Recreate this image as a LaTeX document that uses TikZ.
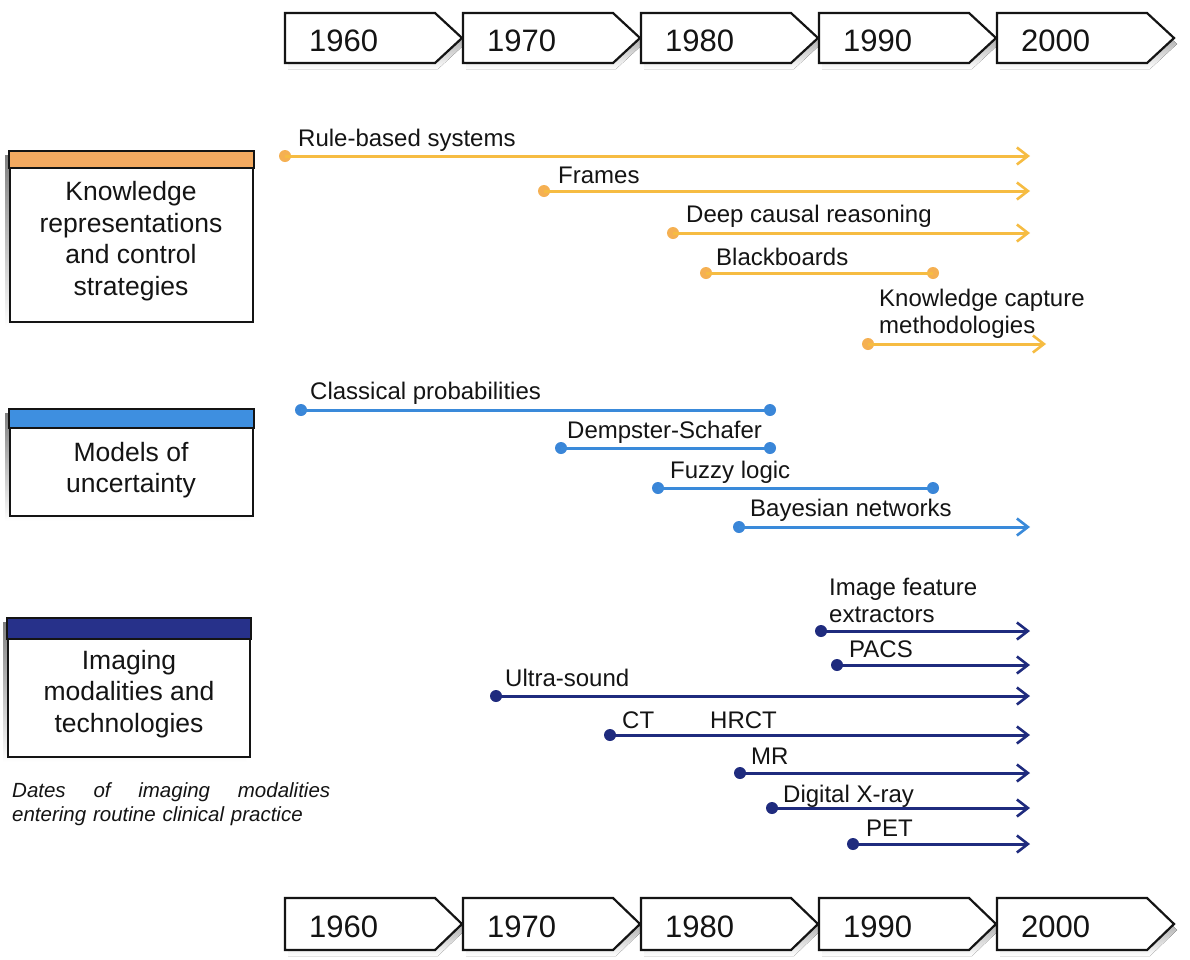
\documentclass[tikz,border=0pt]{standalone}
\usepackage{fontspec}
\setmainfont{Liberation Sans}
\usetikzlibrary{arrows.meta}
\definecolor{orgline}{HTML}{F6BC42}
\definecolor{orgdot}{HTML}{F5B052}
\definecolor{orgbar}{HTML}{F4AA60}
\definecolor{bluline}{HTML}{3A8ADA}
\definecolor{bludot}{HTML}{3A86D8}
\definecolor{blubar}{HTML}{3E8FE0}
\definecolor{navline}{HTML}{1F2B7E}
\definecolor{navbar}{HTML}{27318A}
\definecolor{shade}{HTML}{B3AFAF}
\definecolor{ink}{HTML}{141414}
\begin{document}
\begin{tikzpicture}[x=1pt,y=-1pt,
  lbl/.style={anchor=base west, inner sep=0pt, text=ink, font=\fontsize{24}{27}\selectfont},
  lbltwo/.style={anchor=west, inner sep=0pt, text=ink, align=left, font=\fontsize{24}{27}\selectfont},
  yeartxt/.style={anchor=base west, inner sep=0pt, text=ink, font=\fontsize{31}{36}\selectfont},
  boxtxt/.style={align=center, inner sep=0pt, text=ink, font=\fontsize{26.5}{31.5}\selectfont},
  dotbase/.style={circle, inner sep=0pt, minimum size=12pt},
  dotO/.style={dotbase, fill=orgdot},
  dotB/.style={dotbase, fill=bludot},
  dotN/.style={dotbase, fill=navline},
  segbase/.style={line width=3pt},
  arr/.style={segbase, -{Straight Barb[length=11pt,width=17pt,line width=2.6pt]}},
  segO/.style={segbase, draw=orgline},
  segB/.style={segbase, draw=bluline},
  segN/.style={segbase, draw=navline},
  arrO/.style={arr, draw=orgline},
  arrB/.style={arr, draw=bluline},
  arrN/.style={arr, draw=navline},
  frame/.style={line width=2.6pt, draw=ink},
]
\useasboundingbox (0,0) rectangle (1190,959);
\fill[white] (0,0) rectangle (1190,959);

% ---------- timelines ----------
\foreach \yr [count=\i from 0] in {1960,1970,1980,1990,2000} {
  \pgfmathsetmacro\xl{285+178*\i}
  \fill[shade] (\xl+3,13+6) -- ++(150,0) -- ++(27,25) -- ++(-27,25) -- ++(-150,0) -- cycle;
  \draw[fill=white, line width=2.2pt, draw=ink] (\xl,13) -- ++(150,0) -- ++(27,25) -- ++(-27,25) -- ++(-150,0) -- cycle;
  \node[yeartxt] (top\yr) at (\xl+24,51) {\yr};
  \fill[shade] (\xl+3,898+6) -- ++(150,0) -- ++(27,26) -- ++(-27,26) -- ++(-150,0) -- cycle;
  \draw[fill=white, line width=2.2pt, draw=ink] (\xl,898) -- ++(150,0) -- ++(27,26) -- ++(-27,26) -- ++(-150,0) -- cycle;
  \node[yeartxt] (bot\yr) at (\xl+24,937) {\yr};
}

% ---------- category boxes ----------
\fill[shade] (5,155) rectangle (250,327);
\draw[frame, fill=orgbar] (9,151) rectangle (254,168);
\draw[frame, fill=white] (10,168) rectangle (253,322);
\node[boxtxt] (kr) at (131,241) {Knowledge\\representations\\and control\\strategies};

\fill[shade] (5,413) rectangle (250,521);
\draw[frame, fill=blubar] (9,409) rectangle (254,428);
\draw[frame, fill=white] (10,428) rectangle (253,516);
\node[boxtxt] (mu) at (131,470) {Models of\\uncertainty};

\fill[shade] (3,622) rectangle (246,762);
\draw[frame, fill=navbar] (7,618) rectangle (251,639);
\draw[frame, fill=white] (8,639) rectangle (250,757);
\node[boxtxt] (im) at (129,694) {Imaging\\modalities and\\technologies};

\node[anchor=north west, inner sep=0pt, text=ink, text width=318pt, align=left,
      font=\itshape\fontsize{20.5}{24}\selectfont] (cap) at (12,782)
  {Dates\hfill of\hfill imaging\hfill modalities\\entering routine clinical practice};

% ---------- knowledge representation ----------
\node[dotO] (rb) at (285,156) {};
\coordinate (rbE) at (1030,156);
\draw[arrO] (rb.center) -- (rbE);
\node[lbl] (rbL) at (298,146) {Rule-based systems};

\node[dotO] (fr) at (544,191) {};
\coordinate (frE) at (1030,191);
\draw[arrO] (fr.center) -- (frE);
\node[lbl] (frL) at (558,183) {Frames};

\node[dotO] (dc) at (673,233) {};
\coordinate (dcE) at (1030,233);
\draw[arrO] (dc.center) -- (dcE);
\node[lbl] (dcL) at (686,222) {Deep causal reasoning};

\node[dotO] (bb) at (706,273) {};
\node[dotO] (bbE) at (933,273) {};
\draw[segO] (bb.center) -- (bbE.center);
\node[lbl] (bbL) at (716,265) {Blackboards};

\node[dotO] (kc) at (868,344) {};
\coordinate (kcE) at (1046,344);
\draw[arrO] (kc.center) -- (kcE);
\node[lbltwo] (kcL) at (879,314) {Knowledge capture\\methodologies};

% ---------- uncertainty ----------
\node[dotB] (cp) at (301,410) {};
\node[dotB] (cpE) at (770,410) {};
\draw[segB] (cp.center) -- (cpE.center);
\node[lbl] (cpL) at (310,399) {Classical probabilities};

\node[dotB] (ds) at (561,448) {};
\node[dotB] (dsE) at (770,448) {};
\draw[segB] (ds.center) -- (dsE.center);
\node[lbl] (dsL) at (567,438) {Dempster-Schafer};

\node[dotB] (fl) at (658,488) {};
\node[dotB] (flE) at (933,488) {};
\draw[segB] (fl.center) -- (flE.center);
\node[lbl] (flL) at (670,478) {Fuzzy logic};

\node[dotB] (bn) at (739,527) {};
\coordinate (bnE) at (1030,527);
\draw[arrB] (bn.center) -- (bnE);
\node[lbl] (bnL) at (750,516) {Bayesian networks};

% ---------- imaging ----------
\node[dotN] (ife) at (821,631) {};
\coordinate (ifeE) at (1030,631);
\draw[arrN] (ife.center) -- (ifeE);
\node[lbltwo] (ifeL) at (829,600) {Image feature\\extractors};

\node[dotN] (pacs) at (837,665) {};
\coordinate (pacsE) at (1030,665);
\draw[arrN] (pacs.center) -- (pacsE);
\node[lbl] (pacsL) at (849,657) {PACS};

\node[dotN] (us) at (496,696) {};
\coordinate (usE) at (1030,696);
\draw[arrN] (us.center) -- (usE);
\node[lbl] (usL) at (505,686) {Ultra-sound};

\node[dotN] (ct) at (610,735) {};
\coordinate (ctE) at (1030,735);
\draw[arrN] (ct.center) -- (ctE);
\node[lbl] (ctL) at (622,728) {CT};
\node[lbl] (hrctL) at (710,728) {HRCT};

\node[dotN] (mr) at (740,773) {};
\coordinate (mrE) at (1030,773);
\draw[arrN] (mr.center) -- (mrE);
\node[lbl] (mrL) at (751,764) {MR};

\node[dotN] (dx) at (772,808) {};
\coordinate (dxE) at (1030,808);
\draw[arrN] (dx.center) -- (dxE);
\node[lbl] (dxL) at (783,802) {Digital X-ray};

\node[dotN] (pet) at (853,844) {};
\coordinate (petE) at (1030,844);
\draw[arrN] (pet.center) -- (petE);
\node[lbl] (petL) at (866,836) {PET};
\end{tikzpicture}
\end{document}
